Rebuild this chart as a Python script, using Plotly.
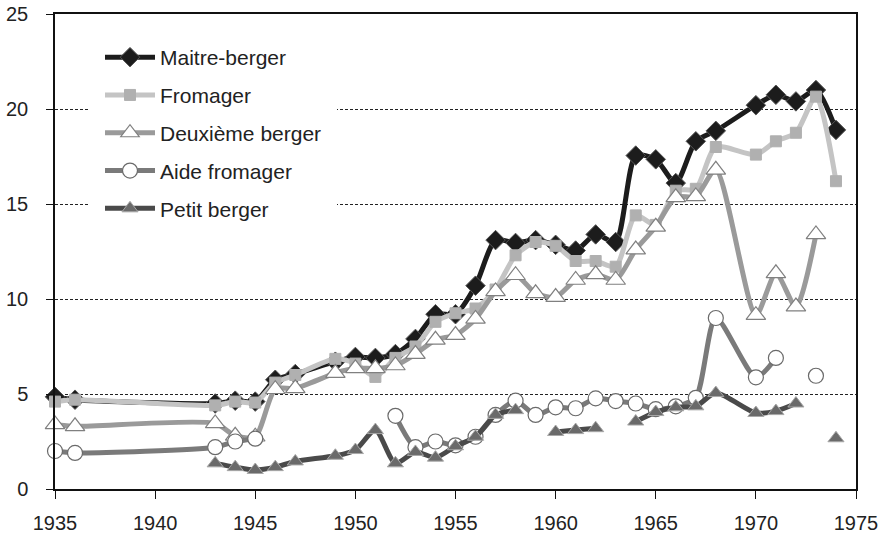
import plotly.graph_objects as go

years = [1935, 1936, 1943, 1944, 1945, 1946, 1947, 1949, 1950, 1951, 1952, 1953, 1954, 1955, 1956,
         1957, 1958, 1959, 1960, 1961, 1962, 1963, 1964, 1965, 1966, 1967, 1968, 1970, 1971, 1972,
         1973, 1974]

maitre_berger = [4.85, 4.7, 4.5, 4.65, 4.6, 5.75, 6.05, 6.7, 6.95, 6.9, 7.1, 7.9, 9.2, 9.2, 10.7,
                 13.1, 12.95, 13.1, 12.85, 12.55, 13.4, 13.0, 17.55, 17.35, 16.1, 18.3, 18.85,
                 20.2, 20.75, 20.4, 21.0, 18.9]
fromager = [4.6, 4.7, 4.4, 4.6, 4.55, 5.6, 6.0, 6.85, 6.6, 5.9, 6.9, 7.5, 8.8, 9.25, 9.5,
            10.5, 12.3, 13.0, 12.8, 12.0, 12.0, 11.7, 14.4, 13.9, 15.7, 15.8, 18.0,
            17.6, 18.3, 18.75, 20.65, 16.2]
deuxieme_berger = [3.4, 3.3, 3.45, 2.8, 2.75, 5.25, 5.3, 6.1, 6.35, 6.35, 6.5, 7.1, 7.85, 8.1, 8.95,
                   10.4, 11.25, 10.3, 10.1, 11.0, 11.3, 11.0, 12.6, 13.8, 15.35, 15.4, 16.8,
                   9.15, 11.35, 9.6, 13.4, None]
aide_fromager = [2.0, 1.9, 2.2, 2.5, 2.65, None, None, None, None, None, 3.85, 2.2, 2.5, 2.3, 2.75,
                 3.9, 4.65, 3.9, 4.3, 4.25, 4.77, 4.63, 4.5, 4.2, 4.35, 4.8, 9.0,
                 5.88, 6.9, None, 5.96, None]
petit_berger = [None, None, 1.35, 1.15, 1.0, 1.15, 1.45, 1.75, 2.05, 3.1, 1.35, 1.95, 1.65, 2.25, 2.75,
                3.9, 4.15, None, 3.0, 3.1, 3.2, None, 3.55, 4.05, 4.3, 4.35, 5.05,
                4.0, 4.1, 4.5, None, 2.67]

x_ticks = [1935, 1940, 1945, 1950, 1955, 1960, 1965, 1970, 1975]
y_ticks = [0, 5, 10, 15, 20, 25]

FONT = "Arial, Liberation Sans, sans-serif"

series = [
    ("Maitre-berger", maitre_berger, "#1c1c1c", dict(symbol="diamond", size=15, color="#1c1c1c",
                                                   line=dict(color="#555555", width=1))),
    ("Fromager", fromager, "#c4c4c4", dict(symbol="square", size=11, color="#b0b0b0",
                                           line=dict(color="#b0b0b0", width=1))),
    ("Deuxième berger", deuxieme_berger, "#9a9a9a", dict(symbol="triangle-up", size=17, color="white",
                                                         line=dict(color="#808080", width=1.2))),
    ("Aide fromager", aide_fromager, "#7a7a7a", dict(symbol="circle", size=15, color="white",
                                                     line=dict(color="#6a6a6a", width=1.2))),
    ("Petit berger", petit_berger, "#4a4a4a", dict(symbol="triangle-up", size=14, color="#6a6a6a",
                                                   line=dict(color="#a8a8a8", width=1))),
]

fig = go.Figure()
for i, (name, vals, lc, mk) in enumerate(series):
    fig.add_trace(go.Scatter(
        x=years, y=vals, name=name, mode="lines+markers",
        line=dict(color=lc, width=5, shape="spline", smoothing=0.7),
        marker=mk, connectgaps=False, legendgroup=f"g{i}", cliponaxis=False,
    ))

# white backing of the legend box (hides the dashed gridlines behind it)
fig.add_shape(type="rect", xref="paper", yref="paper",
              x0=(90 - 55) / 801, x1=(337 - 55) / 801, y0=(489 - 228) / 475, y1=(489 - 30) / 475,
              fillcolor="white", line=dict(width=0), layer="above")

fig.update_layout(
    width=889, height=536,
    margin=dict(l=55, r=33, t=14, b=47, autoexpand=False),
    paper_bgcolor="white", plot_bgcolor="white",
    font=dict(family=FONT, size=20, color="#222222"),
    showlegend=True,
    legend=dict(x=(100 - 55) / 801, y=(489 - 37) / 475, xanchor="left", yanchor="top",
                bgcolor="white", borderwidth=0, font=dict(size=21, family=FONT, color="#222222"),
                tracegroupgap=7.5, traceorder="grouped", itemwidth=50),
    xaxis=dict(range=[1935, 1975], tickvals=x_ticks, showgrid=False, zeroline=False,
               showline=True, linecolor="#111111", linewidth=1.5, mirror=True, automargin=False,
               ticks="outside", ticklen=8, tickwidth=1, tickcolor="#111111",
               ticklabelstandoff=7, tickfont=dict(size=20, family=FONT, color="#222222")),
    yaxis=dict(range=[0, 25], tickvals=y_ticks, showgrid=True, gridcolor="#222222", gridwidth=1,
               griddash="3px,2px", zeroline=False, automargin=False,
               showline=True, linecolor="#111111", linewidth=1.5, mirror=True,
               ticks="outside", ticklen=7, tickwidth=1, tickcolor="#111111",
               ticklabelstandoff=14, tickfont=dict(size=20, family=FONT, color="#222222")),
)

fig.write_html("out.html", config={"displayModeBar": False},
               post_script="document.body.style.margin='0';document.body.style.overflow='hidden';")
